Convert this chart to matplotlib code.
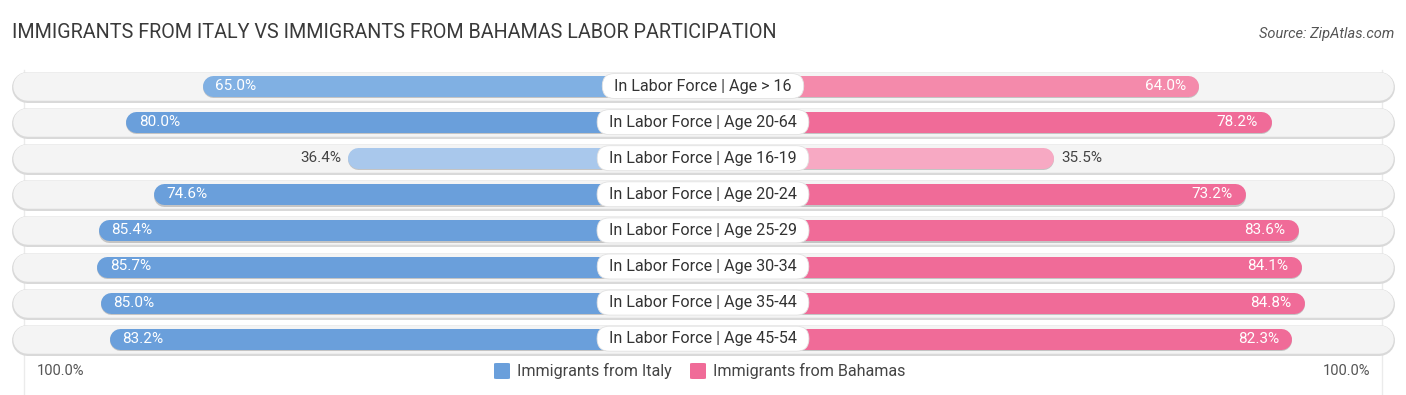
import matplotlib
import matplotlib.pyplot as plt
from matplotlib.patches import FancyBboxPatch

matplotlib.use("Agg")

TITLE = "IMMIGRANTS FROM ITALY VS IMMIGRANTS FROM BAHAMAS LABOR PARTICIPATION"
SOURCE = "Source: ZipAtlas.com"

categories = [
    "In Labor Force | Age > 16",
    "In Labor Force | Age 20-64",
    "In Labor Force | Age 16-19",
    "In Labor Force | Age 20-24",
    "In Labor Force | Age 25-29",
    "In Labor Force | Age 30-34",
    "In Labor Force | Age 35-44",
    "In Labor Force | Age 45-54",
]
italy = [65.0, 80.0, 36.4, 74.6, 85.4, 85.7, 85.0, 83.2]
bahamas = [64.0, 78.2, 35.5, 73.2, 83.6, 84.1, 84.8, 82.3]
series_names = ["Immigrants from Italy", "Immigrants from Bahamas"]

BLUE = "#6a9fdb"
PINK = "#f06b98"
BLUE_SHADES = {0: "#80b0e3", 2: "#a9c8ec"}
PINK_SHADES = {0: "#f48aab", 2: "#f7a9c3"}

W, H, DPI = 1406, 395, 100
PX = 5.09          # pixels per percent
OFFSET = 33.4      # bars start hidden under the label box
ROW0, ROW_STEP = 86, 36.1

fig = plt.figure(figsize=(W / DPI, H / DPI), dpi=DPI)
ax = fig.add_axes([0, 0, 1, 1])
half = W / 2 / PX
ax.set_xlim(-half, half)
ax.set_ylim((H - ROW0) / ROW_STEP, -ROW0 / ROW_STEP)
ax.axis("off")

font = "Roboto"
pt = 72 / DPI  # points per pixel


def px_x(p):
    return p / PX


def px_y(p):
    return p / ROW_STEP


# faint 100% guide lines
for s in (-1, 1):
    ax.plot([s * (OFFSET + 100)] * 2, [-0.45, (H - ROW0) / ROW_STEP],
            color="#ebebeb", lw=1, zorder=0)

renderer = fig.canvas.get_renderer()
track_end = 691 / PX
for i, cat in enumerate(categories):
    # background track
    r = 15 / PX
    ax.plot([-track_end + r, track_end - r], [i + 0.03, i + 0.03], color="#d9d9d9",
            lw=31 * pt, solid_capstyle="round", zorder=1)
    ax.plot([-track_end + r, track_end - r], [i, i], color="#f4f4f4",
            lw=28.5 * pt, solid_capstyle="round", zorder=1)

    br = 10.5 / PX
    lv, rv = italy[i], bahamas[i]
    lc = BLUE_SHADES.get(i, BLUE)
    rc = PINK_SHADES.get(i, PINK)
    lx = -(OFFSET + lv)
    rx = OFFSET + rv
    for x0, x1, c in [(lx + br, 0, lc), (0, rx - br, rc)]:
        ax.plot([x0, x1], [i + 0.035, i + 0.035], color="#c4c4c4", lw=21 * pt,
                solid_capstyle="round", zorder=2)
        ax.plot([x0, x1], [i, i], color=c, lw=21 * pt,
                solid_capstyle="round", zorder=2)

    if lv >= 50:
        ax.text(lx + px_x(13), i, f"{lv:.1f}%", ha="left", va="center",
                color="white", fontsize=11, family=font, zorder=4)
    else:
        ax.text(lx - px_x(6), i, f"{lv:.1f}%", ha="right", va="center",
                color="#444444", fontsize=11, family=font, zorder=4)
    if rv >= 50:
        ax.text(rx - px_x(13), i, f"{rv:.1f}%", ha="right", va="center",
                color="white", fontsize=11, family=font, zorder=4)
    else:
        ax.text(rx + px_x(8), i, f"{rv:.1f}%", ha="left", va="center",
                color="#444444", fontsize=11, family=font, zorder=4)

    t = ax.text(0, i, cat, ha="center", va="center", color="#333333", fontsize=11.6,
                family=font, zorder=6)
    bb = t.get_window_extent(renderer)
    bw = px_x(bb.width + 24)
    bh = px_y(25)
    ax.add_patch(FancyBboxPatch((-bw / 2, i - bh / 2), bw, bh,
                                boxstyle=f"round,pad=0,rounding_size={px_x(12.5)}",
                                mutation_aspect=PX / ROW_STEP,
                                fc="white", ec="#e2e2e2", lw=0.6, zorder=5))

# title and source
fig.text(12 / W, 1 - 33 / H, TITLE, ha="left", va="center", fontsize=14.2,
         color="#3a3a3a", family=font)
fig.text(1394 / W, 1 - 34 / H, SOURCE, ha="right", va="center", fontsize=10.5,
         color="#555555", family=font, style="italic")

# bottom axis labels
fig.text(37 / W, 1 - 371 / H, "100.0%", ha="left", va="center", fontsize=10.5,
         color="#555555", family=font)
fig.text(1370 / W, 1 - 371 / H, "100.0%", ha="right", va="center", fontsize=10.5,
         color="#555555", family=font)

# legend
leg_y = 1 - 371 / H
for x0, col, name in [(494, BLUE, series_names[0]), (690, PINK, series_names[1])]:
    fig.patches.append(FancyBboxPatch((x0 / W, leg_y - 8 / H), 16 / W, 16 / H,
                                      boxstyle="round,pad=0,rounding_size=0.002",
                                      fc=col, ec="none", transform=fig.transFigure))
    fig.text((x0 + 23) / W, leg_y, name, ha="left", va="center", fontsize=11.6,
             color="#444444", family=font)

fig.savefig("out.png", dpi=DPI)
